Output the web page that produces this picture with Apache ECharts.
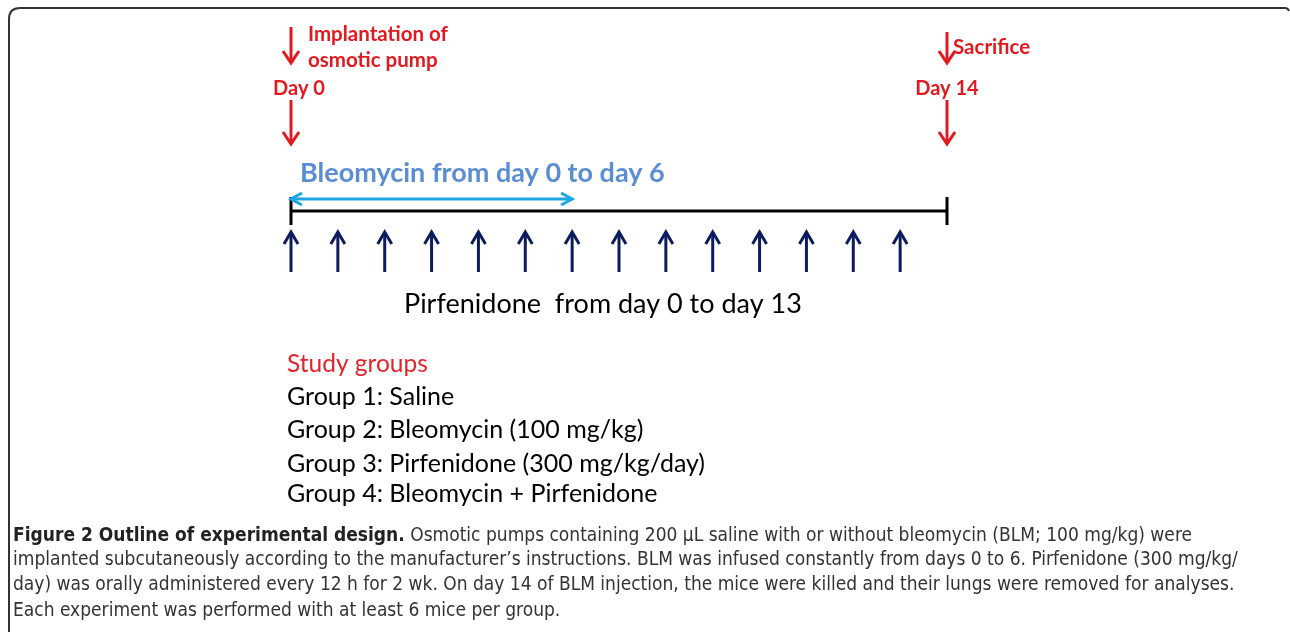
<!DOCTYPE html>
<html>
<head>
<meta charset="utf-8">
<script src="https://cdn.jsdelivr.net/npm/echarts@6/dist/echarts.min.js"></script>
<style>
  html, body { margin: 0; padding: 0; background: #fff; }
  #main { width: 1290px; height: 632px; }
</style>
</head>
<body>
<div id="main"></div>
<script>
// data (days on the timeline)
const timelineDays = [0, 14];
const bleomycinDays = [0, 6];
const pirfenidoneDays = [0, 1, 2, 3, 4, 5, 6, 7, 8, 9, 10, 11, 12, 13];
const eventDays = [0, 14];
const eventLabels = ['Day 0', 'Day 14'];
const eventNotes = ['Implantation of\nosmotic pump', 'Sacrifice'];
const bleomycinLabel = 'Bleomycin from day 0 to day 6';
const pirfenidoneLabel = 'Pirfenidone  from day 0 to day 13';
const groupsTitle = 'Study groups';
const studyGroups = [
  'Group 1: Saline',
  'Group 2: Bleomycin (100 mg/kg)',
  'Group 3: Pirfenidone (300 mg/kg/day)',
  'Group 4: Bleomycin + Pirfenidone'
];
const captionTitle = 'Figure 2 Outline of experimental design.';
const captionLines = [
  ' Osmotic pumps containing 200 \u00b5L saline with or without bleomycin (BLM; 100 mg/kg) were',
  'implanted subcutaneously according to the manufacturer\u2019s instructions. BLM was infused constantly from days 0 to 6. Pirfenidone (300 mg/kg/',
  'day) was orally administered every 12 h for 2 wk. On day 14 of BLM injection, the mice were killed and their lungs were removed for analyses.',
  'Each experiment was performed with at least 6 mice per group.'
];

// layout (y axis is in page pixels)
const RED = '#e3191f';
const NAVY = '#0c1c5e';
const SKY = '#1ea5e2';
const BLUE_TEXT = '#5b8dd4';
const FONT = 'Lato, "Open Sans", sans-serif';
const CAP_FONT = '"Liberation Sans Narrow", "DejaVu Sans Condensed", sans-serif';

const lineY = 211;
const tickHalf = 14;
const blueY = 199;
const blueTextY = 173;
const upTop = 232, upBottom = 272;
const eventArrowTop = [27, 32];
const eventUpperEnd = 63;
const eventLowerTop = 100, eventLowerEnd = 144;
const eventLabelY = 89;
const eventLabelDx = [8, 0];
const eventNoteDx = [17, 6];
const eventNoteY = 47;

function chevronV(x, y, dir, hw, len) {
  // dir = 1 pointing down, -1 pointing up
  return [[x - hw, y - dir * len], [x, y], [x + hw, y - dir * len]];
}
function line(p0, p1, color, w) {
  return { type: 'line', shape: { x1: p0[0], y1: p0[1], x2: p1[0], y2: p1[1] },
    style: { stroke: color, lineWidth: w } };
}
function poly(points, color, w) {
  return { type: 'polyline', shape: { points: points },
    style: { stroke: color, lineWidth: w, fill: null } };
}

let myChart = echarts.init(document.getElementById('main'), null, { renderer: 'canvas' });

let option = {
  animation: false,
  backgroundColor: '#fff',
  grid: { left: 291, right: 343, top: 0, bottom: 0 },
  xAxis: { type: 'value', min: 0, max: 14, show: false },
  yAxis: { type: 'value', min: 0, max: 632, inverse: true, show: false },
  series: [
    {
      // main timeline
      type: 'custom', clip: false, silent: true,
      data: [timelineDays],
      renderItem: function (params, api) {
        let a = api.coord([api.value(0), lineY]);
        let b = api.coord([api.value(1), lineY]);
        return { type: 'group', children: [
          line(a, b, '#000', 3),
          line([a[0], a[1] - tickHalf], [a[0], a[1] + tickHalf], '#000', 3),
          line([b[0], b[1] - tickHalf], [b[0], b[1] + tickHalf], '#000', 3)
        ] };
      }
    },
    {
      // bleomycin infusion
      type: 'custom', clip: false, silent: true,
      data: [bleomycinDays],
      renderItem: function (params, api) {
        let a = api.coord([api.value(0), blueY]);
        let b = api.coord([api.value(1), blueY]);
        let t = api.coord([api.value(0), blueTextY]);
        return { type: 'group', children: [
          line(a, b, SKY, 3),
          poly([[a[0] + 11, a[1] - 6], a, [a[0] + 11, a[1] + 6]], SKY, 3),
          poly([[b[0] - 11, b[1] - 6], b, [b[0] - 11, b[1] + 6]], SKY, 3),
          { type: 'text', style: { text: bleomycinLabel, x: t[0] + 9, y: t[1],
            fill: BLUE_TEXT, font: 'bold 27px ' + FONT, align: 'left', verticalAlign: 'middle' } }
        ] };
      }
    },
    {
      // pirfenidone doses
      type: 'custom', clip: false, silent: true,
      data: pirfenidoneDays.map(d => [d]),
      renderItem: function (params, api) {
        let top = api.coord([api.value(0), upTop]);
        let bot = api.coord([api.value(0), upBottom]);
        return { type: 'group', children: [
          line(top, bot, NAVY, 3),
          poly(chevronV(top[0], top[1], -1, 7, 12), NAVY, 3)
        ] };
      }
    },
    {
      // day 0 / day 14 events
      type: 'custom', clip: false, silent: true,
      data: eventDays.map((d, i) => [d, i]),
      renderItem: function (params, api) {
        let d = api.value(0), i = api.value(1);
        let a0 = api.coord([d, eventArrowTop[i]]);
        let a1 = api.coord([d, eventUpperEnd]);
        let b0 = api.coord([d, eventLowerTop]);
        let b1 = api.coord([d, eventLowerEnd]);
        let lab = api.coord([d, eventLabelY]);
        let note = api.coord([d, eventNoteY]);
        return { type: 'group', children: [
          line(a0, a1, RED, 3),
          poly(chevronV(a1[0], a1[1], 1, 8, 12), RED, 3),
          line(b0, b1, RED, 3),
          poly(chevronV(b1[0], b1[1], 1, 8, 12), RED, 3),
          { type: 'text', style: { text: eventLabels[i], x: lab[0] + eventLabelDx[i], y: lab[1],
            fill: RED, font: 'bold 20px ' + FONT, align: 'center', verticalAlign: 'middle' } },
          { type: 'text', style: { text: eventNotes[i], x: note[0] + eventNoteDx[i], y: note[1],
            fill: RED, font: 'bold 20.5px ' + FONT, lineHeight: 26, align: 'left', verticalAlign: 'middle' } }
        ] };
      }
    }
  ],
  graphic: [
    // figure frame (left and top edges)
    { type: 'line', silent: true, shape: { x1: 9, y1: 632, x2: 9, y2: 19 },
      style: { stroke: '#333', lineWidth: 2 } },
    { type: 'bezierCurve', silent: true, shape: { x1: 9, y1: 19, cpx1: 9, cpy1: 8, x2: 20, y2: 8 },
      style: { stroke: '#333', lineWidth: 2, fill: null } },
    { type: 'line', silent: true, shape: { x1: 20, y1: 8, x2: 1285, y2: 8 },
      style: { stroke: '#333', lineWidth: 2 } },
    { type: 'bezierCurve', silent: true, shape: { x1: 1285, y1: 8, cpx1: 1288, cpy1: 8, x2: 1289, y2: 11 },
      style: { stroke: '#333', lineWidth: 2, fill: null } },
    {
      type: 'text', silent: true, x: 404, y: 304,
      style: { text: pirfenidoneLabel, font: '27px ' + FONT, fill: '#000', verticalAlign: 'middle' }
    },
    {
      type: 'text', silent: true, x: 287, y: 364,
      style: { text: groupsTitle, font: '24.5px ' + FONT, fill: '#e0262c', verticalAlign: 'middle' }
    },
    ...studyGroups.map((g, i) => ({
      type: 'text', silent: true, x: 287, y: [397, 430, 464, 494][i],
      style: { text: g, font: '25px ' + FONT, fill: '#000', verticalAlign: 'middle' }
    })),
    {
      type: 'text', silent: true, x: 13, y: 536,
      style: {
        text: '{b|' + captionTitle + '}' + captionLines[0],
        font: '19px ' + CAP_FONT, fill: '#333', verticalAlign: 'middle',
        rich: { b: { font: 'bold 19px ' + CAP_FONT, fill: '#222' } }
      }
    },
    ...captionLines.slice(1).map((c, i) => ({
      type: 'text', silent: true, x: 13, y: [560, 585, 611][i],
      style: { text: c, font: '19px ' + CAP_FONT, fill: '#333', verticalAlign: 'middle' }
    }))
  ]
};

myChart.setOption(option);
</script>
</body>
</html>
